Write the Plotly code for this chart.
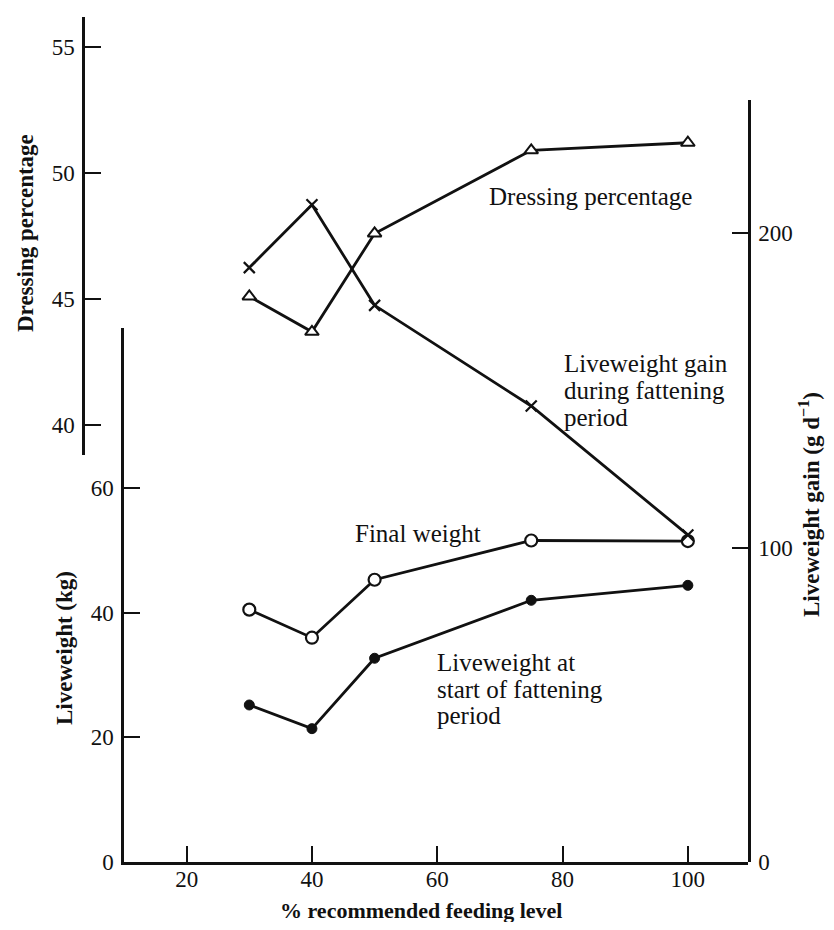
import plotly.graph_objects as go

# ---- data ----
feeding_level = [30, 40, 50, 75, 100]
dressing_pct = [45.1, 43.7, 47.6, 50.9, 51.2]
lw_gain = [189, 209, 177, 145, 104]
final_weight = [40.5, 36.0, 45.3, 51.6, 51.5]
start_weight = [25.2, 21.4, 32.7, 42.0, 44.4]

x_ticks = [20, 40, 60, 80, 100]
lw_ticks = [0, 20, 40, 60]
gain_ticks = [0, 100, 200]
dress_ticks = [40, 45, 50, 55]

# ---- layout geometry (screen pixels; the page body has an 8px margin) ----
OFF = 8
W, H = 834 - 2 * OFF, 930 - 2 * OFF
PLOT_L, PLOT_R, PLOT_T, PLOT_B = 83, 748, 17, 862
L = PLOT_L - OFF
T = PLOT_T - OFF
R = W - (PLOT_R - OFF)
B = H - (PLOT_B - OFF)
pw = PLOT_R - PLOT_L
ph = PLOT_B - PLOT_T


def px(xs):
    return (xs - PLOT_L) / pw


def py(ys):
    return (PLOT_B - ys) / ph


SERIF = "Liberation Serif"
INK = "#111111"

fig = go.Figure()

line_style = dict(color=INK, width=2.8)

fig.add_trace(go.Scatter(
    x=feeding_level, y=dressing_pct, xaxis="x", yaxis="y3",
    mode="lines+markers", line=line_style,
    marker=dict(symbol="triangle-up", size=12, color="white",
                line=dict(color=INK, width=2)),
    name="Dressing percentage", showlegend=False))

fig.add_trace(go.Scatter(
    x=feeding_level, y=lw_gain, xaxis="x", yaxis="y2",
    mode="lines+markers", line=line_style,
    marker=dict(symbol="x-thin", size=11, color=INK,
                line=dict(color=INK, width=2.2)),
    name="Liveweight gain", showlegend=False))

fig.add_trace(go.Scatter(
    x=feeding_level, y=final_weight, xaxis="x", yaxis="y",
    mode="lines+markers", line=line_style,
    marker=dict(symbol="circle", size=12, color="white",
                line=dict(color=INK, width=2.2)),
    name="Final weight", showlegend=False))

fig.add_trace(go.Scatter(
    x=feeding_level, y=start_weight, xaxis="x", yaxis="y",
    mode="lines+markers", line=line_style,
    marker=dict(symbol="circle", size=10, color=INK,
                line=dict(color=INK, width=1)),
    name="Liveweight at start", showlegend=False))

tickfont = dict(family=SERIF, size=23, color=INK)
axis_common = dict(showline=True, linecolor=INK, linewidth=2.5,
                   ticks="inside", ticklen=16, tickwidth=2, tickcolor=INK,
                   showgrid=False, zeroline=False, tickfont=tickfont,
                   tickmode="array")

fig.update_layout(
    width=W, height=H,
    margin=dict(l=L, r=R, t=T, b=B, pad=0),
    paper_bgcolor="white", plot_bgcolor="rgba(0,0,0,0)",
    showlegend=False,
    xaxis=dict(domain=[px(124), 1], range=[10, 109.6], anchor="y",
               tickvals=x_ticks, ticklabelstandoff=-5, **axis_common),
    yaxis=dict(domain=[0, py(328)], range=[0, 85.7], anchor="x",
               side="left", tickvals=lw_ticks, ticklabelstandoff=3, **axis_common),
    yaxis2=dict(domain=[0, py(100)], range=[0, 242.3], anchor="x",
                side="right", tickvals=gain_ticks, ticklabelstandoff=3, **axis_common),
    yaxis3=dict(domain=[py(455), 1], range=[38.81, 56.19], anchor="free",
                position=0, side="left", tickvals=dress_ticks, ticklabelstandoff=3,
                **axis_common),
)

title_font = dict(family=SERIF, size=23, color=INK)
label_font = dict(family=SERIF, size=25, color=INK)

annotations = [
    # axis titles
    dict(text="<b>Dressing percentage</b>", x=px(25), y=py(233),
         textangle=-90, font=title_font),
    dict(text="<b>Liveweight (kg)</b>", x=px(64), y=py(648),
         textangle=-90, font=title_font),
    dict(text="<b>Liveweight gain (g d<sup>−1</sup>)</b>", x=px(810), y=py(505),
         textangle=-90, font=title_font),
    dict(text="<b>% recommended feeding level</b>", x=px(421), y=py(910),
         font=dict(family=SERIF, size=22, color=INK)),
    # series labels
    dict(text="Dressing percentage", x=px(590), y=py(196), font=label_font),
    dict(text="Liveweight gain", x=px(562), y=py(363), xanchor="left", font=label_font),
    dict(text="during fattening", x=px(562), y=py(390), xanchor="left", font=label_font),
    dict(text="period", x=px(562), y=py(417), xanchor="left", font=label_font),
    dict(text="Final weight", x=px(418), y=py(534), font=label_font),
    dict(text="Liveweight at", x=px(435), y=py(662), xanchor="left", font=label_font),
    dict(text="start of fattening", x=px(435), y=py(689), xanchor="left", font=label_font),
    dict(text="period", x=px(435), y=py(715), xanchor="left", font=label_font),
]
for a in annotations:
    a.setdefault("xanchor", "center")
    a.setdefault("yanchor", "middle")
    a.update(xref="paper", yref="paper", showarrow=False)
fig.update_layout(annotations=annotations)

fig.write_html("out.html")
